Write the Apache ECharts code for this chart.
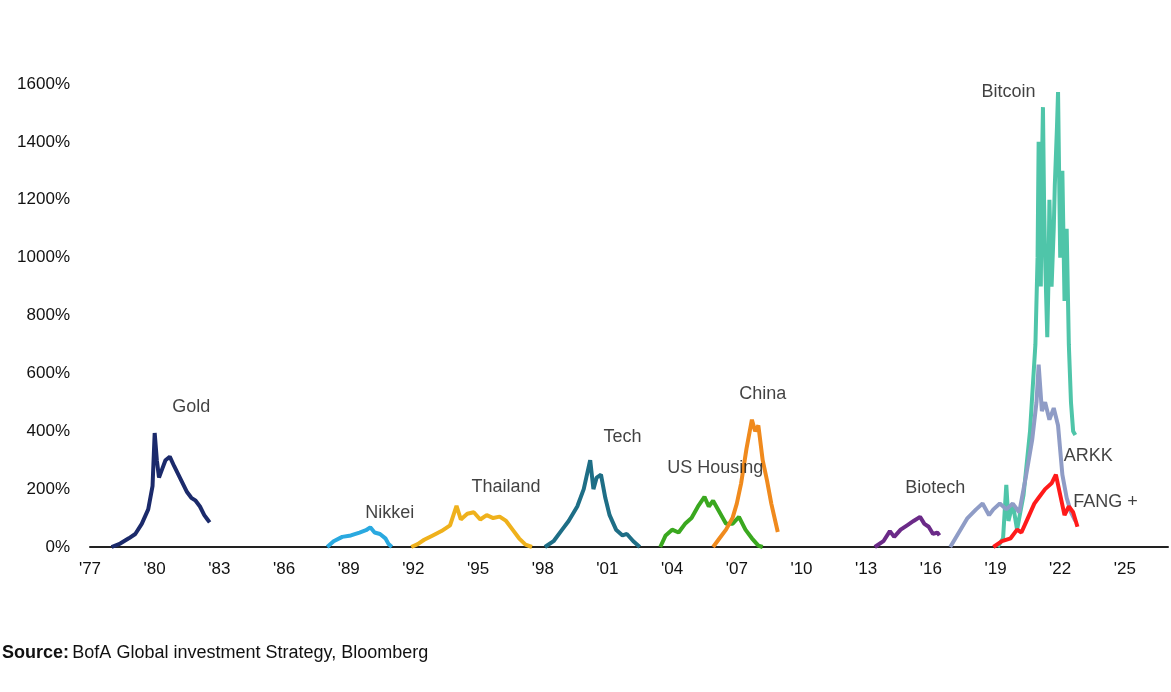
<!DOCTYPE html>
<html><head><meta charset="utf-8">
<script src="https://cdn.jsdelivr.net/npm/echarts@6/dist/echarts.min.js"></script>
<style>body{margin:0;background:#fff}#c{width:1171px;height:692px}</style>
</head><body><div id="c"></div>
<script>
const yTicks = [0,200,400,600,800,1000,1200,1400,1600];
const gold = [[1978.0,0],[1978.4,12],[1978.8,30],[1979.1,45],[1979.4,80],[1979.7,130],[1979.9,210],[1980.0,394],[1980.1,300],[1980.2,240],[1980.35,270],[1980.5,300],[1980.7,312],[1980.9,280],[1981.1,250],[1981.3,220],[1981.5,190],[1981.7,170],[1981.9,160],[1982.1,140],[1982.3,110],[1982.45,95],[1982.55,85]];
const nikkei = [[1988.0,0],[1988.3,20],[1988.7,35],[1989.1,40],[1989.5,50],[1989.8,58],[1990.0,68],[1990.2,50],[1990.45,45],[1990.7,30],[1990.85,10],[1991.0,0]];
const thailand = [[1991.9,0],[1992.2,10],[1992.5,25],[1992.9,40],[1993.3,55],[1993.7,75],[1994.0,142],[1994.2,95],[1994.5,115],[1994.8,120],[1995.1,95],[1995.4,110],[1995.7,100],[1996.0,105],[1996.3,90],[1996.6,60],[1996.9,30],[1997.2,8],[1997.5,0]];
const tech = [[1998.1,0],[1998.5,20],[1998.9,60],[1999.2,90],[1999.6,140],[1999.9,200],[2000.2,300],[2000.35,200],[2000.5,240],[2000.7,250],[2000.9,170],[2001.1,110],[2001.4,60],[2001.7,40],[2001.9,45],[2002.2,20],[2002.5,0]];
const usHousing = [[2003.45,0],[2003.7,40],[2004.0,60],[2004.3,50],[2004.6,80],[2004.9,100],[2005.2,140],[2005.5,173],[2005.7,140],[2005.9,160],[2006.2,120],[2006.5,80],[2006.8,80],[2007.1,104],[2007.4,60],[2007.7,30],[2008.0,5],[2008.2,0]];
const china = [[2005.9,0],[2006.2,30],[2006.5,60],[2006.8,100],[2007.0,150],[2007.2,220],[2007.45,340],[2007.7,440],[2007.85,400],[2008.0,420],[2008.2,300],[2008.4,230],[2008.6,150],[2008.9,52]];
const biotech = [[2013.4,0],[2013.8,20],[2014.1,55],[2014.3,35],[2014.6,60],[2014.9,75],[2015.2,90],[2015.5,104],[2015.7,80],[2015.9,70],[2016.1,45],[2016.3,50],[2016.4,40]];
const bitcoin = [[2019.1,0],[2019.35,30],[2019.5,215],[2019.6,90],[2019.8,150],[2020.0,60],[2020.3,180],[2020.6,400],[2020.85,700],[2020.95,1000],[2021.0,1400],[2021.05,1100],[2021.1,900],[2021.15,1300],[2021.2,1520],[2021.25,1200],[2021.3,1000],[2021.4,725],[2021.45,900],[2021.5,1200],[2021.6,900],[2021.7,1100],[2021.75,1250],[2021.85,1450],[2021.9,1572],[2022.0,1000],[2022.1,1300],[2022.2,850],[2022.3,1100],[2022.4,700],[2022.5,500],[2022.6,400],[2022.7,387]];
const arkk = [[2016.9,0],[2017.3,50],[2017.7,100],[2018.1,130],[2018.4,150],[2018.7,110],[2018.9,130],[2019.2,150],[2019.5,130],[2019.8,150],[2020.1,120],[2020.4,240],[2020.7,370],[2020.9,500],[2021.0,630],[2021.15,470],[2021.3,500],[2021.5,440],[2021.7,480],[2021.9,420],[2022.1,250],[2022.3,170],[2022.5,120],[2022.7,90]];
const fang = [[2018.9,0],[2019.3,20],[2019.7,30],[2020.0,60],[2020.2,50],[2020.5,100],[2020.8,150],[2021.0,170],[2021.3,200],[2021.6,220],[2021.8,250],[2022.0,180],[2022.2,110],[2022.4,140],[2022.6,120],[2022.8,70]];
const labels = [["Gold",1981.7,484],["Nikkei",1990.9,117],["Thailand",1996.3,207],["Tech",2001.7,380],["US Housing",2006.0,273],["China",2008.2,529],["Biotech",2016.2,204],["Bitcoin",2019.6,1572],["ARKK",2023.3,315],["FANG +",2024.1,155]];
const seriesDefs = [["Gold",gold,"#1b2a6b"],["Nikkei",nikkei,"#2aa9e0"],["Thailand",thailand,"#efb11c"],["Tech",tech,"#1e6e86"],["US Housing",usHousing,"#3aa81f"],["China",china,"#f08a1d"],["Biotech",biotech,"#6b2a88"],["ARKK",arkk,"#8f9cc6"],["FANG +",fang,"#ff1a1a"],["Bitcoin",bitcoin,"#4fc5a9"]];
const series = seriesDefs.map(([n,d,c])=>({name:n,type:'line',data:d,showSymbol:false,symbol:'none',lineStyle:{width:4,color:c},z:n==='Bitcoin'?1:2}));
series.push({type:'scatter',symbolSize:0,data:labels.map(l=>({value:[l[1],l[2]],name:l[0]})),
  label:{show:true,position:'inside',formatter:p=>p.name,color:'#111',fontSize:18,fontFamily:'Liberation Sans Narrow, Liberation Sans'}});
const chart = echarts.init(document.getElementById('c'));
chart.setOption({
  animation:false,
  grid:{left:90,right:3,top:84,bottom:145},
  xAxis:{type:'value',min:1977,max:2027,interval:3,
    axisLine:{lineStyle:{color:'#222',width:2}},axisTick:{show:false},splitLine:{show:false},
    axisLabel:{formatter:v=>"'"+String(v).slice(2),color:'#111',fontSize:17,margin:14,fontFamily:'Liberation Sans, Arial',showMaxLabel:false}},
  yAxis:{type:'value',min:0,max:1600,interval:200,axisLine:{show:false},axisTick:{show:false},splitLine:{show:false},
    axisLabel:{formatter:v=>yTicks.includes(v)?v+'%':'',color:'#111',fontSize:17,margin:20,fontFamily:'Liberation Sans, Arial'}},
  series:series,
  graphic:[{type:'text',left:2,top:644,style:{rich:{b:{fontWeight:'bold',fontSize:18,fill:'#111',fontFamily:'Liberation Sans Narrow, Liberation Sans'},n:{fontSize:18,fill:'#111',fontFamily:'Liberation Sans Narrow, Liberation Sans'}},text:'{b|Source:} {n|BofA Global investment Strategy, Bloomberg}'}}]
});
</script></body></html>
